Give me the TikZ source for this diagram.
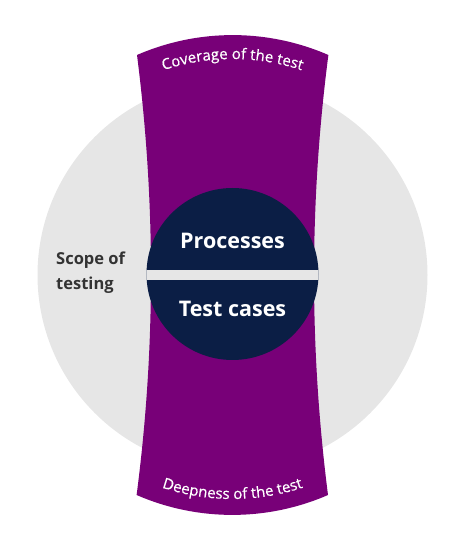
\documentclass[tikz,border=0pt]{standalone}
\usepackage{fontspec}
\setmainfont{Open Sans}
\usetikzlibrary{calc,decorations.text}

\definecolor{ringgray}{HTML}{E6E6E6}
\definecolor{bandpurple}{HTML}{780078}
\definecolor{corenavy}{HTML}{0B1E45}
\definecolor{labelgray}{HTML}{333333}

\begin{document}
\begin{tikzpicture}[x=1pt,y=1pt,
  corelabel/.style={text=white, anchor=base, inner sep=0pt,
    font=\fontsize{21.5}{26}\selectfont\bfseries},
  sidelabel/.style={text=labelgray, anchor=base west, inner sep=0pt,
    font=\fontsize{16.5}{20}\selectfont\bfseries},
  arctext/.style={decorate, decoration={text along path, text align=center,
    text color=white,
    text={|\fontsize{15}{18}\selectfont\addfontfeature{FakeBold=0.4}|#1}}}]
\useasboundingbox (0,0) rectangle (456,533);

\coordinate (O) at (232.5,258);

% scope disc
\fill[ringgray] (O) circle[radius=195pt];

% hourglass band bounded by an outer circle
\fill[bandpurple] (137,478) arc[start angle=113.5, end angle=66.5, radius=240pt]
  .. controls (309.3,331.3) and (309.3,184.7) .. (328,38)
  arc[start angle=293.5, end angle=246.5, radius=240pt]
  .. controls (155.7,184.7) and (155.7,331.3) .. (137,478) -- cycle;

% core disc split by a horizontal gap
\node[circle, fill=corenavy, minimum size=172pt, inner sep=0pt] (core) at (232.5,259) {};
\begin{scope}
  \clip (core.center) circle[radius=86pt];
  \fill[ringgray] (140,253) rectangle (325,263);
\end{scope}

\node[corelabel] (proc) at (232.5,284.7) {Processes};
\node[corelabel] (cases) at (232.5,216.3) {Test cases};

\node[sidelabel] (scope1) at (56,268) {Scope of};
\node[sidelabel] (scope2) at (56,243) {testing};

% curved captions along the band ends
\path[arctext={Coverage of the test}]
  ($(O)+(124:216pt)$) arc[start angle=124, end angle=56, radius=216pt];
\path[arctext={Deepness of the test}]
  ($(O)+(234:224pt)$) arc[start angle=234, end angle=306, radius=224pt];
\end{tikzpicture}
\end{document}
